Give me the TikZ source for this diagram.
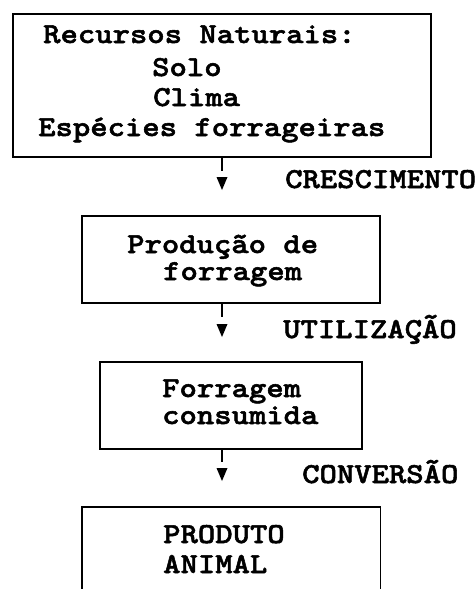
\documentclass[tikz,border=0pt]{standalone}
\usepackage{fontspec}
\newfontfamily\typefont{lmmonolt10-bold}[Extension=.otf,FakeStretch=1.14,FakeBold=1.8]
\begin{document}
\begin{tikzpicture}[x=1pt,y=-1pt,
  box/.style={draw,line width=1.6pt,inner sep=0pt,anchor=north west},
  txt/.style={anchor=base west,inner sep=0pt,font=\typefont\fontsize{29}{30}\selectfont},
  stem/.style={line width=1.6pt},
  head/.style={fill=black}]
\useasboundingbox (0,0) rectangle (476,589);
% boxes
\node[box,minimum width=418pt,minimum height=143pt] (b1) at (12,13) {};
\node[box,minimum width=298pt,minimum height=87pt] (b2) at (81,215) {};
\node[box,minimum width=262pt,minimum height=87pt] (b3) at (99,361) {};
\node[inner sep=0pt,anchor=north west,minimum width=298pt,minimum height=85pt] (b4) at (82,507) {};
\draw[line width=1.6pt] (b4.south west) -- (b4.north west) -- (b4.north east) -- (b4.south east);
% texts
\node[txt] (t1a) at (43,43) {Recursos Naturais:};
\node[txt] (t1b) at (152,76) {Solo};
\node[txt] (t1c) at (153,106) {Clima};
\node[txt] (t1d) at (38,136) {Espécies forrageiras};
\node[txt] (t2a) at (127,253) {Produção de};
\node[txt] (t2b) at (163,280) {forragem};
\node[txt] (t3a) at (162,397) {Forragem};
\node[txt] (t3b) at (162,424) {consumida};
\node[txt] (t4a) at (163,543) {PRODUTO};
\node[txt] (t4b) at (163,573) {ANIMAL};
% labels
\node[txt] (l1) at (285,188) {CRESCIMENTO};
\node[txt] (l2) at (283,338) {UTILIZAÇÃO};
\node[txt] (l3) at (302,483) {CONVERSÃO};
% connectors
\coordinate (s1) at (222,171);
\coordinate (h1) at (222,177);
\coordinate (s2) at (222,317);
\coordinate (h2) at (222,324);
\coordinate (s3) at (222,462);
\coordinate (h3) at (222,468);
\draw[stem] (b1.south -| s1) -- (s1);
\draw[stem] (b2.south -| s2) -- (s2);
\draw[stem] (b3.south -| s3) -- (s3);
\foreach \h in {h1,h2,h3}
  \fill[head] (\h) ++(-5.5,0) -- ++(11,0) -- ++(-5.5,13) -- cycle;
\end{tikzpicture}
\end{document}
